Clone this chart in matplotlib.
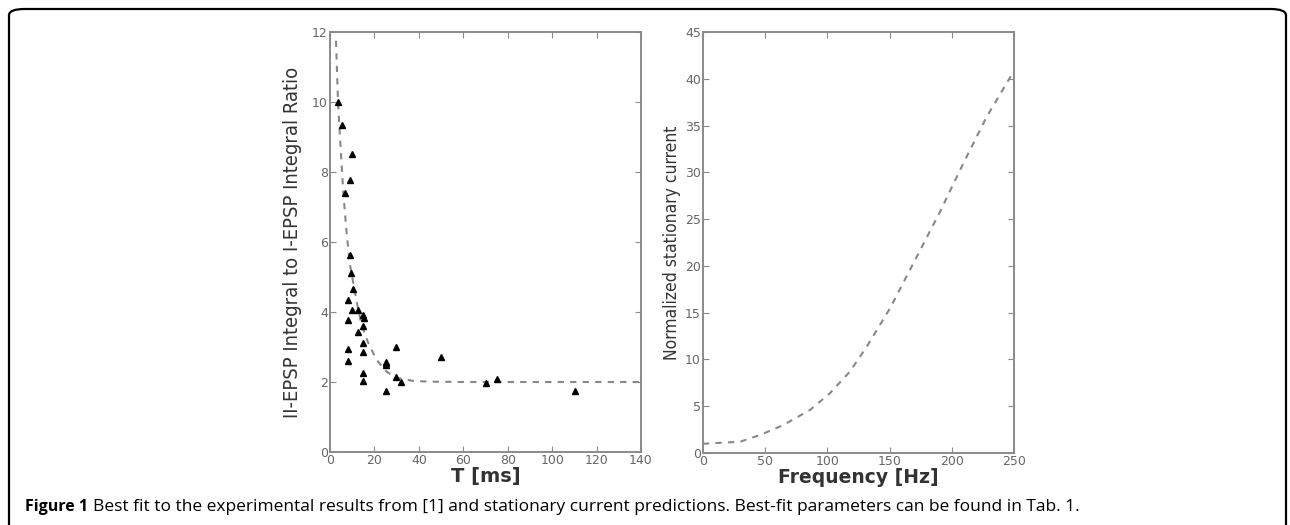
import matplotlib
matplotlib.use("agg")
import matplotlib.pyplot as plt
from matplotlib.patches import FancyBboxPatch

# measured points (left panel)
t_ms = [3.6, 5.5, 9.7, 9.0, 6.8, 9.0, 9.5, 10.5, 8.0, 8.0, 9.8, 12.8, 15.0, 15.3,
        14.7, 12.8, 15.0, 15.0, 8.3, 8.3, 15.0, 15.0, 25.2, 25.2, 25.2, 25.2,
        29.7, 29.7, 31.8, 50.0, 70.1, 75.0, 110.3]
ratio = [10.0, 9.34, 8.51, 7.77, 7.41, 5.63, 5.12, 4.65, 4.34, 3.77, 4.06, 4.06, 3.91, 3.84,
         3.6, 3.44, 3.12, 2.85, 2.93, 2.6, 2.27, 2.04, 2.58, 2.54, 2.5, 1.75,
         2.99, 2.13, 2.01, 2.72, 1.96, 2.1, 1.75]

# best fit curve
fit_t = [2.7, 3.6, 5.0, 6.0, 7.5, 9.0, 10.8, 12.3, 14.2, 17.3, 21.0, 25.5, 30.0,
         37.5, 45.0, 60.0, 80.0, 100.0, 120.0, 140.0]
fit_ratio = [11.75, 10.0, 8.45, 7.4, 6.25, 5.35, 4.72, 4.2, 3.63, 3.1, 2.63, 2.29, 2.12,
             2.03, 2.01, 2.0, 2.0, 2.0, 2.0, 2.0]

# stationary current prediction (right panel)
freq_hz = [0, 1.6, 29.7, 45.8, 64.6, 86.0, 102.0, 118.0, 131.6, 150.3, 171.8,
           190.5, 209.2, 228.0, 248.0, 250.0]
current = [1.0, 1.0, 1.2, 1.92, 2.99, 4.6, 6.38, 8.69, 11.36, 15.46, 20.97,
           25.78, 30.95, 35.93, 40.4, 40.7]

fig = plt.figure(figsize=(12.9, 5.25), dpi=100)

# rounded frame around the figure
frame = FancyBboxPatch((9 / 1290, -0.2), 1277 / 1290, 1.2 - 9 / 525,
                       boxstyle="round,pad=0,rounding_size=0.012",
                       transform=fig.transFigure, fill=False,
                       edgecolor="black", linewidth=1.6)
fig.patches.append(frame)

tick_gray = "#666666"
spine_gray = "#8a8a8a"


def style_axes(ax):
    for s in ax.spines.values():
        s.set_color(spine_gray)
        s.set_linewidth(1.4)
    ax.tick_params(direction="in", top=True, right=True, length=4,
                   color=spine_gray, labelsize=9, labelcolor=tick_gray, pad=1.5)


ax1 = fig.add_axes([330 / 1290, 1 - 452 / 525, 311 / 1290, 420 / 525])
ax1.plot(fit_t, fit_ratio, linestyle=(0, (3, 3)), color="#888888", linewidth=1.5)
ax1.plot(t_ms, ratio, linestyle="none", marker="^", color="black", markersize=5)
ax1.set_xlim(0, 140)
ax1.set_ylim(0, 12)
ax1.set_xticks(range(0, 141, 20))
ax1.set_yticks(range(0, 13, 2))
style_axes(ax1)
ax1.set_xlabel("T [ms]", fontsize=14, fontweight="bold", color="#333333", labelpad=0)
ax1.set_ylabel("II-EPSP Integral to I-EPSP Integral Ratio", fontsize=14.5,
               family="DejaVu Sans", fontstretch="condensed", color="#333333", labelpad=7)

ax2 = fig.add_axes([703 / 1290, 1 - 453 / 525, 311 / 1290, 421 / 525])
ax2.plot(freq_hz, current, linestyle=(0, (3, 3)), color="#888888", linewidth=1.5)
ax2.set_xlim(0, 250)
ax2.set_ylim(0, 45)
ax2.set_xticks(range(0, 251, 50))
ax2.set_yticks(range(0, 46, 5))
style_axes(ax2)
ax2.set_xlabel("Frequency [Hz]", fontsize=13.5, fontweight="bold", color="#333333", labelpad=0)
ax2.set_ylabel("Normalized stationary current", fontsize=12.5,
               family="DejaVu Sans", fontstretch="condensed", color="#333333", labelpad=3)

fig.text(25 / 1290, 1 - 507 / 525, "Figure 1", fontsize=11.5, fontweight="bold",
         family="Open Sans", va="center", ha="left")
fig.text(93 / 1290, 1 - 507 / 525,
         "Best fit to the experimental results from [1] and stationary current predictions. "
         "Best-fit parameters can be found in Tab. 1.",
         fontsize=12.5, family="Open Sans", va="center", ha="left")

fig.savefig("out.png", dpi=100)
